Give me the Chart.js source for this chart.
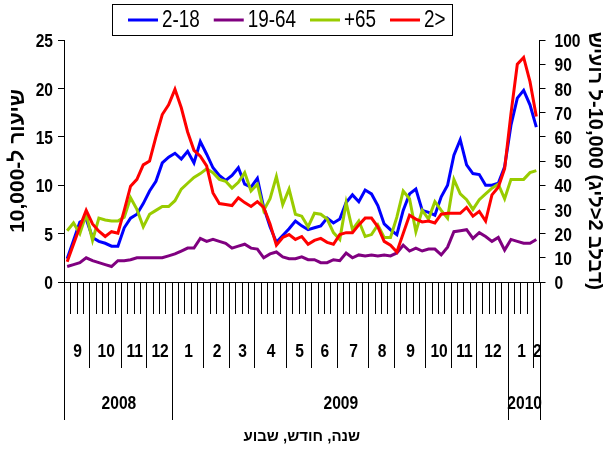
<!DOCTYPE html>
<html><head><meta charset="utf-8">
<script src="https://cdn.jsdelivr.net/npm/chart.js@4.4.1/dist/chart.umd.min.js"></script>
<style>html,body{margin:0;padding:0;background:#fff;overflow:hidden}#wrap{width:603px;height:452px;position:relative}canvas{display:block}</style>
</head><body><div id="wrap"><canvas id="c" width="603" height="452"></canvas></div>
<script>
// ---- data ----
const years = ['2008', '2009', '2010'];
const yearWeeks = [17, 53, 5];
const months = ['9','10','11','12','1','2','3','4','5','6','7','8','9','10','11','12','1','2'];
const monthWeeks = [4,5,4,4,5,4,4,5,4,4,5,4,5,4,4,5,4,1];

const seriesNames = ['2-18', '19-64', '+65', '2>'];
const seriesColors = ['#0000FF', '#800080', '#99CC00', '#FF0000'];

// rate per 10,000 (left axis)
const age2to18 = [2.4,4.3,6.2,6.5,4.6,4.2,4.0,3.7,3.7,5.6,6.6,7.0,8.1,9.4,10.4,12.3,12.9,13.3,12.7,13.5,
  12.3,14.5,13.2,11.8,11.0,10.5,11.0,11.8,10.1,9.8,10.7,7.7,5.7,4.1,4.8,5.5,6.3,5.8,5.4,5.6,
  5.8,6.6,6.1,6.5,8.2,9.0,8.3,9.5,9.1,7.9,6.0,5.4,4.9,7.4,9.1,9.6,7.4,7.2,6.9,8.8,
  10.0,13.1,14.7,12.1,11.2,11.1,10.0,10.0,10.2,11.9,16.2,19.0,19.8,18.3,16.0];
const age19to64 = [1.6,1.8,2.0,2.5,2.2,2.0,1.8,1.6,2.2,2.2,2.3,2.5,2.5,2.5,2.5,2.5,2.7,2.9,3.2,3.5,
  3.5,4.5,4.2,4.4,4.2,4.0,3.5,3.7,3.9,3.5,3.4,2.5,2.9,3.1,2.6,2.4,2.4,2.6,2.3,2.3,
  2.0,2.0,2.3,2.2,3.0,2.5,2.8,2.7,2.8,2.7,2.8,2.7,3.0,3.8,3.2,3.5,3.2,3.4,3.4,2.8,
  3.6,5.2,5.3,5.4,4.5,5.1,4.7,4.2,4.6,3.3,4.4,4.2,4.0,4.0,4.4];
const age65plus = [5.3,6.1,5.0,7.0,4.3,6.6,6.4,6.3,6.3,6.7,8.7,7.5,5.7,7.0,7.4,7.8,7.8,8.4,9.6,10.2,
  10.8,11.2,11.7,11.3,10.6,10.4,9.7,10.3,11.3,9.4,10.1,7.4,8.6,10.9,8.0,9.6,7.0,6.8,5.7,7.1,
  7.0,6.5,5.1,4.4,8.2,5.4,6.3,4.7,4.9,5.9,4.6,4.6,6.7,9.4,8.6,5.2,7.4,6.5,8.3,7.4,
  6.6,10.6,9.1,8.5,7.5,8.5,9.1,9.7,10.1,8.6,10.6,10.6,10.6,11.3,11.5];
// under age 2 (right axis)
const ageUnder2 = [8.4,15.6,22.8,29.6,24.0,21.0,18.8,20.8,20.2,29.6,39.6,42.4,48.4,50.0,60.0,69.2,73.2,79.6,72.0,62.0,
  54.4,52.0,48.0,36.8,32.4,32.0,31.6,34.8,32.8,31.2,33.2,30.8,24.0,15.2,18.4,19.6,17.6,18.8,15.6,17.2,
  18.0,16.4,15.6,19.6,20.4,20.4,23.6,26.4,26.4,22.8,16.8,15.2,12.4,20.0,27.6,26.0,24.8,25.2,24.4,28.0,
  28.4,28.4,28.4,30.8,27.2,29.2,25.2,36.0,39.2,46.8,69.6,90.0,92.8,82.8,68.4];

const leftTicks = {min: 0, max: 25, step: 5};
const rightTicks = {min: 0, max: 100, step: 10};
const leftTitle = 'שיעור ל-10,000';
const rightTitle = 'שיעור ל-10,000 (גיל>2 בלבד)';
const xTitle = 'שנה, חודש, שבוע';

// week category labels built from month grouping
const weekLabels = [];
{
  let yi = 0, yCount = 0;
  months.forEach((m, idx) => {
    for (let w = 1; w <= monthWeeks[idx]; w++) {
      weekLabels.push(years[yi] + '-' + m + ' w' + w);
      yCount++;
    }
    if (yCount >= yearWeeks[yi]) { yi++; yCount = 0; }
  });
}

const SANS = "'Liberation Sans',Arial,'DejaVu Sans',sans-serif";
const NARROW_SX = 0.82;

function narrowText(ctx, text, x, y, align, font) {
  ctx.save();
  ctx.font = font; ctx.textAlign = align; ctx.textBaseline = 'middle'; ctx.fillStyle = '#000';
  ctx.translate(x, y); ctx.scale(NARROW_SX, 1);
  ctx.fillText(text, 0, 0);
  ctx.restore();
}

const boxLegend = {
  id: 'boxLegend',
  afterDraw(chart) {
    const ctx = chart.ctx;
    ctx.save();
    ctx.strokeStyle = '#000'; ctx.lineWidth = 1;
    ctx.strokeRect(112.5, 4.5, 340, 31);
    let x = 128; const y = 20;
    const font = '23px ' + SANS;
    chart.data.datasets.forEach((ds) => {
      ctx.strokeStyle = ds.borderColor; ctx.lineWidth = 3;
      ctx.beginPath(); ctx.moveTo(x, y); ctx.lineTo(x + 30, y); ctx.stroke();
      x += 34;
      narrowText(ctx, ds.label, x, y + 1, 'left', font);
      ctx.font = font;
      x += ctx.measureText(ds.label).width * NARROW_SX + 14;
    });
    ctx.restore();
  }
};

const axisLabels = {
  id: 'axisLabels',
  afterDraw(chart) {
    const ctx = chart.ctx;
    const font = 'bold 19px ' + SANS;
    const yl = chart.scales.y, yr = chart.scales.y1;
    yl.ticks.forEach(t => narrowText(ctx, String(t.value), yl.right - 11, yl.getPixelForValue(t.value) + 2, 'right', font));
    yr.ticks.forEach(t => narrowText(ctx, String(t.value), yr.left + 15, yr.getPixelForValue(t.value) + 2, 'left', font));

    const xs = chart.scales.x;
    const n = weekLabels.length;
    const step = xs.getPixelForValue(1) - xs.getPixelForValue(0);
    const edge = k => xs.getPixelForValue(0) - step / 2 + k * step;
    const y0 = chart.chartArea.bottom;
    const px = v => Math.round(v) + 0.5;
    ctx.save();
    ctx.strokeStyle = '#000'; ctx.lineWidth = 1;
    ctx.beginPath();
    for (let k = 1; k < n; k++) { ctx.moveTo(px(edge(k)), y0); ctx.lineTo(px(edge(k)), y0 + 32); }
    let c = 0;
    monthWeeks.forEach(w => { c += w; if (c < n) { ctx.moveTo(px(edge(c)), y0); ctx.lineTo(px(edge(c)), y0 + 86); } });
    c = 0;
    ctx.moveTo(px(edge(0)), y0); ctx.lineTo(px(edge(0)), y0 + 138);
    yearWeeks.forEach(w => { c += w; ctx.moveTo(px(edge(c)), y0); ctx.lineTo(px(edge(c)), y0 + 138); });
    ctx.stroke();
    ctx.restore();
    c = 0;
    months.forEach((m, i) => {
      const mid = (edge(c) + edge(c + monthWeeks[i])) / 2;
      narrowText(ctx, m, mid + 1, y0 + 70, 'center', font);
      c += monthWeeks[i];
    });
    c = 0;
    years.forEach((yv, i) => {
      const mid = (edge(c) + edge(c + yearWeeks[i])) / 2;
      narrowText(ctx, yv, mid + 1, y0 + 122, 'center', font);
      c += yearWeeks[i];
    });
  }
};

const mk = (i, data, axis, order) => ({
  label: seriesNames[i], data, yAxisID: axis, borderColor: seriesColors[i], backgroundColor: seriesColors[i],
  borderWidth: 3, pointRadius: 0, tension: 0, order, fill: false
});

new Chart(document.getElementById('c'), {
  type: 'line',
  data: {
    labels: weekLabels,
    datasets: [
      mk(0, age2to18, 'y', 3),
      mk(1, age19to64, 'y', 2),
      mk(2, age65plus, 'y', 1),
      mk(3, ageUnder2, 'y1', 0)
    ]
  },
  options: {
    responsive: false, animation: false, devicePixelRatio: 1,
    layout: {padding: {top: 40, left: 0, right: 0, bottom: 0}},
    plugins: {legend: {display: false}, tooltip: {enabled: false}},
    scales: {
      x: {
        type: 'category', offset: true,
        ticks: {display: false}, grid: {display: false},
        border: {display: true, color: '#000', width: 1},
        title: {display: true, text: xTitle, color: '#000',
          font: {family: SANS, size: 15, weight: 'bold'}, padding: {top: 0, bottom: 6}},
        afterFit(s) { s.height = 170; }
      },
      y: {
        position: 'left', min: leftTicks.min, max: leftTicks.max,
        ticks: {display: false, stepSize: leftTicks.step},
        grid: {drawOnChartArea: false, drawTicks: true, tickLength: 6, color: '#000'},
        border: {display: true, color: '#000', width: 1},
        title: {display: true, text: leftTitle, color: '#000',
          font: {family: SANS, size: 21, weight: 'bold'}, padding: {top: 6, bottom: 0}},
        afterFit(s) { s.width = 64; }
      },
      y1: {
        position: 'right', min: rightTicks.min, max: rightTicks.max,
        ticks: {display: false, stepSize: rightTicks.step},
        grid: {drawOnChartArea: false, drawTicks: true, tickLength: 6, color: '#000'},
        border: {display: true, color: '#000', width: 1},
        title: {display: true, text: '\u202D' + rightTitle + '\u202C', color: '#000',
          font: {family: SANS, size: 20, weight: 'bold'}, padding: {top: -4, bottom: 0}},
        afterFit(s) { s.width = 63.5; }
      }
    }
  },
  plugins: [boxLegend, axisLabels]
});
</script>
</body></html>
